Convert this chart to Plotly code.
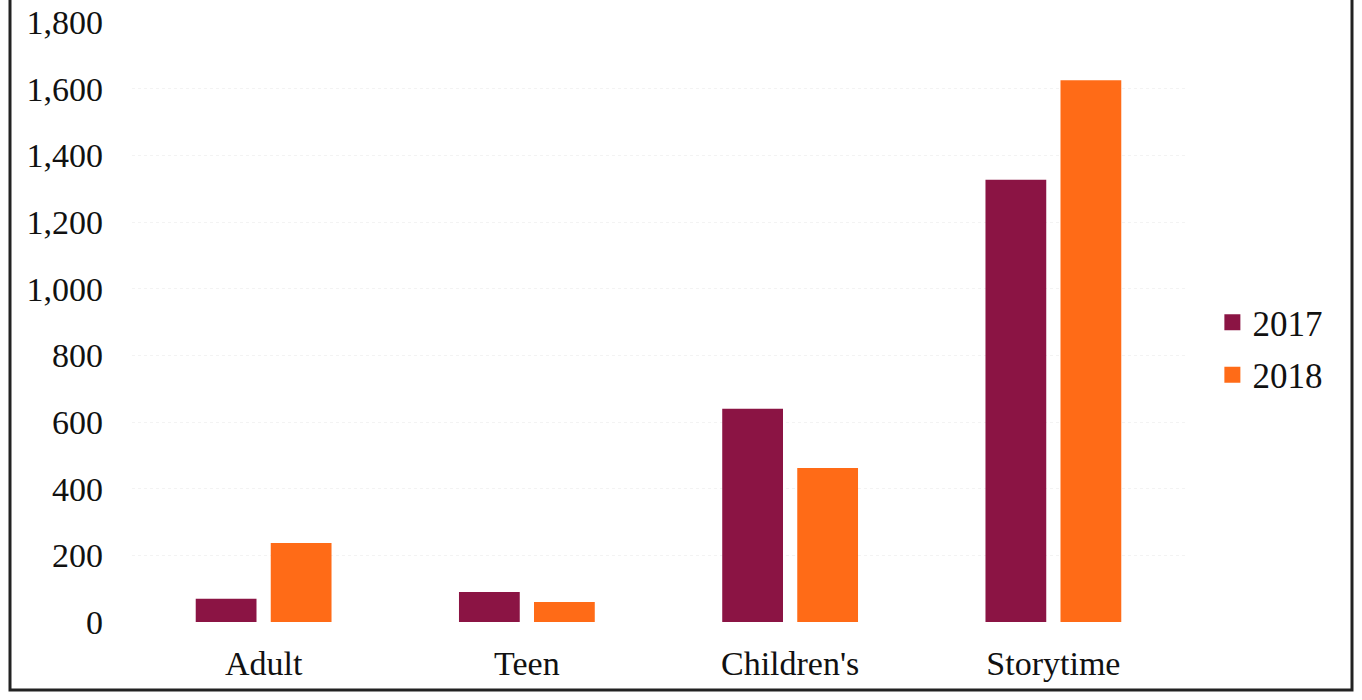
import plotly.graph_objects as go

categories = ["Adult", "Teen", "Children's", "Storytime"]
series_names = ["2017", "2018"]
values_2017 = [70, 90, 640, 1327]
values_2018 = [237, 60, 462, 1625]
y_ticks = [0, 200, 400, 600, 800, 1000, 1200, 1400, 1600, 1800]
colors = ["#8B1444", "#FF6B17"]

W, H = 1362, 700
ml, mr, mt, mb = 132, 177, 22, 78
pw, ph = W - ml - mr, H - mt - mb

fig = go.Figure()
for name, vals, col in zip(series_names, [values_2017, values_2018], colors):
    fig.add_trace(go.Bar(x=categories, y=vals, name=name, marker_color=col,
                         marker_line_width=0, showlegend=False))
# legend entries with larger square swatches
for name, col in zip(series_names, colors):
    fig.add_trace(go.Scatter(x=[None], y=[None], mode="markers", name=name,
                             marker=dict(symbol="square", size=18, color=col),
                             legendgroup=name))

font = "Liberation Serif, DejaVu Serif, serif"
fig.update_layout(
    width=W, height=H,
    margin=dict(l=ml, r=mr, t=mt, b=mb, autoexpand=False),
    paper_bgcolor="white", plot_bgcolor="white",
    font=dict(family=font, size=34, color="#111111"),
    barmode="group", bargap=0.43, bargroupgap=0.19,
    showlegend=True,
    legend=dict(x=1.026, y=0.456, xanchor="left", yanchor="middle",
                font=dict(size=35), tracegroupgap=4, traceorder="grouped",
                itemwidth=30),
    xaxis=dict(showgrid=False, showline=False, ticks="", ticklabelstandoff=18,
               tickfont=dict(size=34), automargin=False),
    yaxis=dict(range=[0, 1800], tickvals=y_ticks, tickformat=",d",
               showgrid=True, gridcolor="#f3f3f3", gridwidth=1, griddash="dot",
               zeroline=False, showline=False, ticks="", ticklabelstandoff=28,
               tickfont=dict(size=34), automargin=False),
)

# outer border
x0 = (10 - ml) / pw
x1 = (1352 - ml) / pw
y0 = (H - mb - 690) / ph
y1 = (H - mb + 2) / ph
fig.add_shape(type="rect", xref="paper", yref="paper", x0=x0, x1=x1, y0=y0, y1=y1,
              line=dict(color="#222222", width=3), fillcolor="rgba(0,0,0,0)")

fig.write_html("out.html", config={"displayModeBar": False},
               post_script="document.body.style.margin='0';document.body.style.overflow='hidden';")
